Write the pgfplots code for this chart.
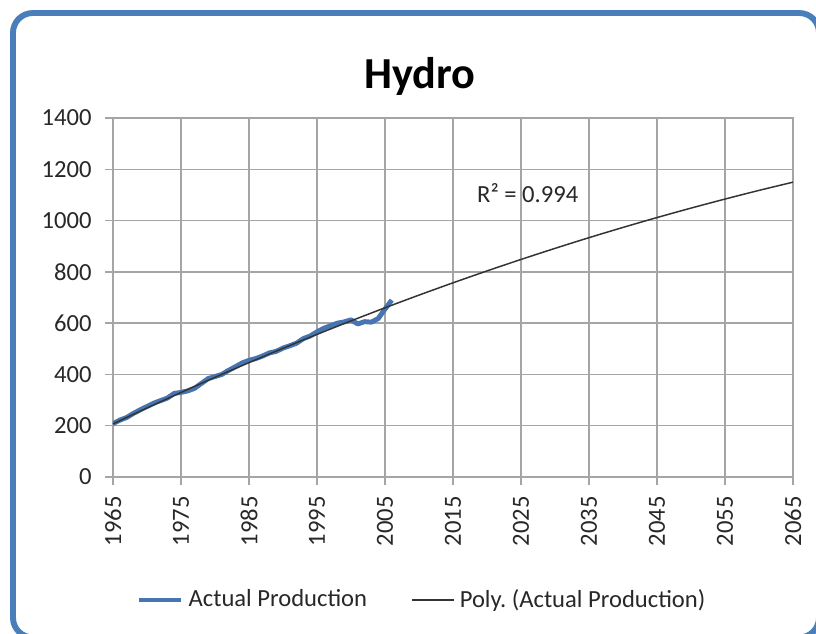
\documentclass[border=0pt]{standalone}
\usepackage{fontspec}
\setmainfont{Carlito}
\usepackage{pgfplots}
\pgfplotsset{compat=1.18}
\frenchspacing
\definecolor{frameblue}{RGB}{74,126,187}
\definecolor{lineblue}{RGB}{70,117,178}
\definecolor{gridgray}{RGB}{165,165,165}
\definecolor{txt}{RGB}{40,40,40}
\begin{document}
\begin{tikzpicture}
\clip (-45.93pt,-63.41pt) rectangle (285.77pt,193.90pt);
\fill[white] (-45.93pt,-63.41pt) rectangle (285.77pt,193.90pt);
\draw[frameblue, line width=2.4pt, rounded corners=8pt] (-40.65pt,-65.2pt) rectangle (287.0pt,188.6pt);
\begin{axis}[
  scale only axis, width=276.4pt, height=145.9pt,
  xmin=1965, xmax=2065, ymin=0, ymax=1400,
  xtick={1965,1975,...,2065}, ytick={0,200,...,1400},
  grid=major, major grid style={gridgray, line width=0.6pt},
  axis line style={gridgray, line width=0.6pt},
  tick style={gridgray, line width=0.6pt},
  tick align=outside, major tick length=3.2pt,
  xtick pos=left, ytick pos=left,
  ticklabel style={font=\fontsize{10}{12}\selectfont, text=txt},
  /pgf/number format/assume math mode=true,
  /pgf/number format/1000 sep={},
  xticklabel style={rotate=90, anchor=east},
  xticklabel shift=1.2pt,
  yticklabel style={xshift=-2pt},
  legend style={draw=none, fill=none, at={(0.4567,-0.3427)}, anchor=center,
    font=\fontsize{10}{12}\selectfont, text=txt,
    /tikz/every even column/.append style={column sep=16pt}},
  legend columns=2, legend cell align=left,
]
\addplot[lineblue, line width=2pt, line join=round] coordinates {
(1965,208) (1966,222) (1967,232) (1968,248) (1969,262) (1970,275)
(1971,288) (1972,298) (1973,308) (1974,326) (1975,330) (1976,336)
(1977,346) (1978,365) (1979,384) (1980,392) (1981,400) (1982,416)
(1983,430) (1984,445) (1985,455) (1986,462) (1987,472) (1988,484)
(1989,490) (1990,503) (1991,512) (1992,522) (1993,540) (1994,550)
(1995,566) (1996,580) (1997,590) (1998,600) (1999,605) (2000,613)
(2001,597) (2002,606) (2003,604) (2004,618) (2005,655) (2006,690)
};
\addlegendentry{Actual Production}
\addplot[black!80, line width=0.6pt, smooth] coordinates {
(1965,207) (1970,269.2) (1975,329.7) (1980,388.7) (1985,446.1)
(1990,502) (1995,556.2) (2000,608.9) (2005,660) (2010,709.5)
(2015,757.4) (2020,803.8) (2025,848.6) (2030,891.8) (2035,933.5)
(2040,973.5) (2045,1012) (2050,1048.8) (2055,1084.1) (2060,1117.9)
(2065,1150)
};
\addlegendentry{Poly. (Actual Production)}
\node[font=\fontsize{10}{12}\selectfont, text=txt] at (axis cs:2026,1108) {R² = 0.994};
\end{axis}
\node[anchor=base, font=\fontsize{18}{22}\selectfont\bfseries] at (124.8pt,158.1pt) {Hydro};
\end{tikzpicture}
\end{document}
